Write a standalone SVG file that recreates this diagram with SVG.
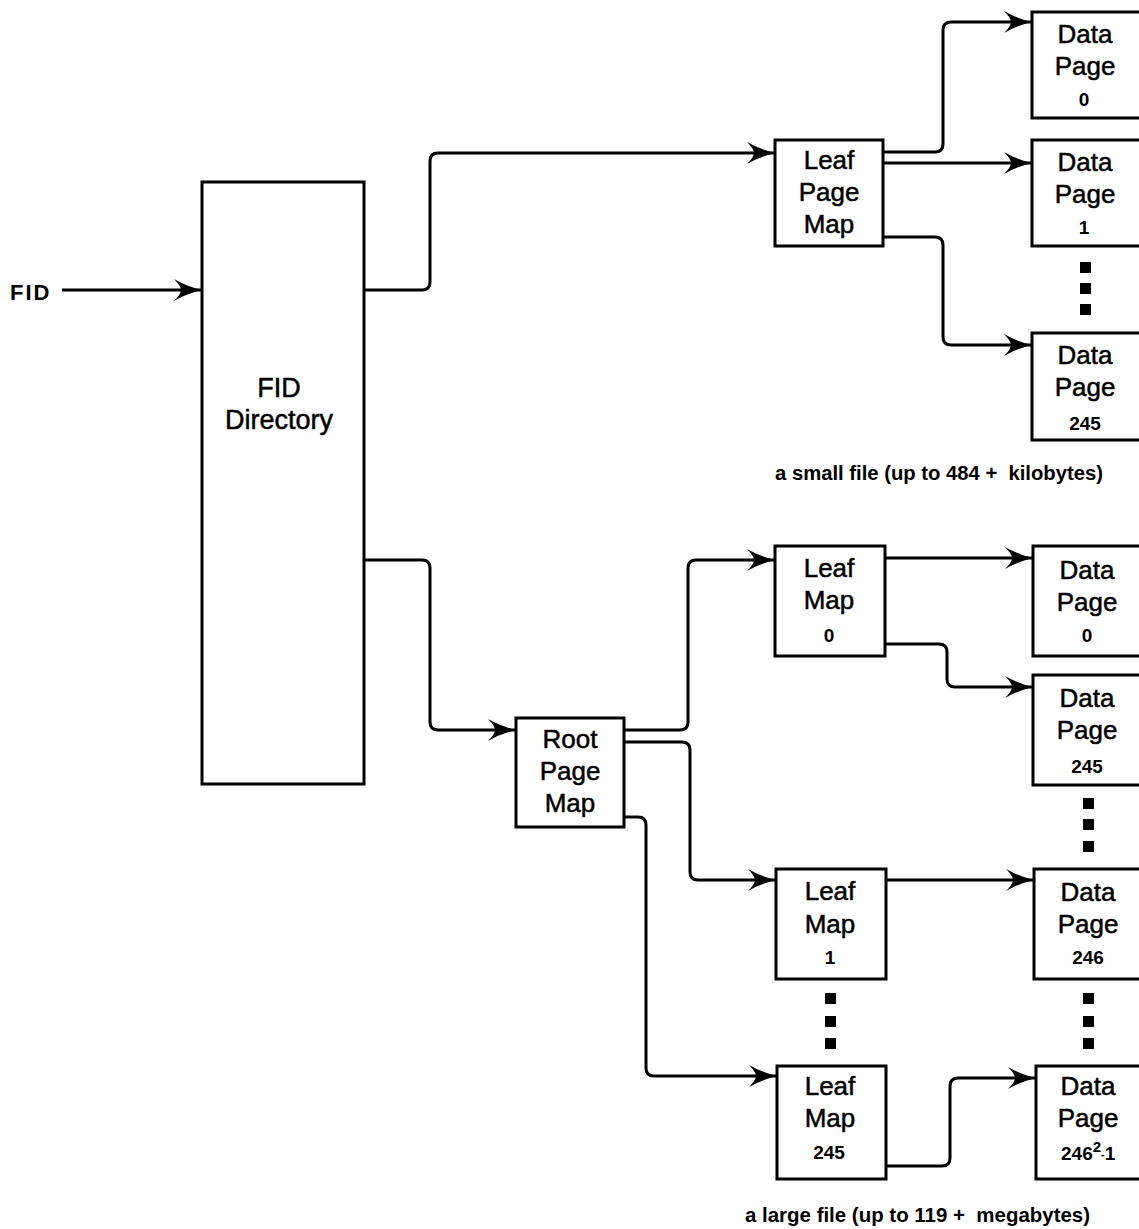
<svg xmlns="http://www.w3.org/2000/svg" width="1139" height="1229" viewBox="0 0 1139 1229">
<style>
.box{fill:#fff;stroke:#000;stroke-width:3}
.t{font-family:"Liberation Sans",Arial,sans-serif;font-size:26px;fill:#000;stroke:#000;stroke-width:0.5;text-anchor:middle}
.n{font-family:"Liberation Sans",Arial,sans-serif;font-size:19px;font-weight:bold;fill:#000;text-anchor:middle}
.cap{font-family:"Liberation Sans",Arial,sans-serif;font-size:20px;font-weight:bold;fill:#000;white-space:pre}
.c{fill:none;stroke:#000;stroke-width:3;marker-end:url(#ah)}
.dot{fill:#000}
</style>
<defs>
<marker id="ah" markerUnits="userSpaceOnUse" markerWidth="30" markerHeight="24" viewBox="0 0 30 24" refX="29" refY="12" orient="auto">
<path d="M29,12 Q14,8.5 1,1 Q8,8 8,12 Q8,16 1,23 Q14,15.5 29,12 Z" fill="#000"/>
</marker>
</defs>
<rect width="1139" height="1229" fill="#fff"/>

<text class="cap" x="10" y="300" style="font-size:22px;letter-spacing:2px">FID</text>

<g id="fid-directory">
<rect class="box" x="202" y="182" width="162" height="602"/>
<text class="t" x="279" y="397" style="font-size:27px">FID</text>
<text class="t" x="279" y="429" style="font-size:27px">Directory</text>
</g>

<g id="leaf-page-map">
<rect class="box" x="775" y="140" width="108" height="106"/>
<text class="t" x="829" y="169">Leaf</text>
<text class="t" x="829" y="201">Page</text>
<text class="t" x="829" y="233">Map</text>
</g>

<g id="small-data-0">
<rect class="box" x="1032" y="12" width="110" height="106"/>
<text class="t" x="1085" y="43">Data</text>
<text class="t" x="1085" y="75">Page</text>
<text class="n" x="1084" y="106">0</text>
</g>
<g id="small-data-1">
<rect class="box" x="1032" y="140" width="110" height="106"/>
<text class="t" x="1085" y="171">Data</text>
<text class="t" x="1085" y="203">Page</text>
<text class="n" x="1084" y="234">1</text>
</g>
<g id="small-dots">
<rect class="dot" x="1080" y="262" width="11" height="11"/>
<rect class="dot" x="1080" y="283" width="11" height="11"/>
<rect class="dot" x="1080" y="304" width="11" height="11"/>
</g>
<g id="small-data-245">
<rect class="box" x="1032" y="333" width="110" height="107"/>
<text class="t" x="1085" y="364">Data</text>
<text class="t" x="1085" y="396">Page</text>
<text class="n" x="1085" y="430">245</text>
</g>

<text id="caption-small" class="cap" x="775" y="480" textLength="328" lengthAdjust="spacingAndGlyphs">a small file (up to 484 +  kilobytes)</text>

<g id="root-page-map">
<rect class="box" x="516" y="718" width="108" height="109"/>
<text class="t" x="570" y="748">Root</text>
<text class="t" x="570" y="780">Page</text>
<text class="t" x="570" y="812">Map</text>
</g>

<g id="leaf-map-0">
<rect class="box" x="775" y="546" width="110" height="110"/>
<text class="t" x="829" y="577">Leaf</text>
<text class="t" x="829" y="609">Map</text>
<text class="n" x="829" y="642">0</text>
</g>
<g id="leaf-map-1">
<rect class="box" x="776" y="869" width="110" height="110"/>
<text class="t" x="830" y="900">Leaf</text>
<text class="t" x="830" y="933">Map</text>
<text class="n" x="830" y="964">1</text>
</g>
<g id="leaf-dots">
<rect class="dot" x="825" y="993" width="11" height="11"/>
<rect class="dot" x="825" y="1016" width="11" height="11"/>
<rect class="dot" x="825" y="1038" width="11" height="11"/>
</g>
<g id="leaf-map-245">
<rect class="box" x="777" y="1066" width="109" height="113"/>
<text class="t" x="830" y="1095">Leaf</text>
<text class="t" x="830" y="1127">Map</text>
<text class="n" x="829" y="1159">245</text>
</g>

<g id="large-data-0">
<rect class="box" x="1033" y="546" width="110" height="110"/>
<text class="t" x="1087" y="579">Data</text>
<text class="t" x="1087" y="611">Page</text>
<text class="n" x="1087" y="642">0</text>
</g>
<g id="large-data-245">
<rect class="box" x="1033" y="675" width="110" height="110"/>
<text class="t" x="1087" y="707">Data</text>
<text class="t" x="1087" y="739">Page</text>
<text class="n" x="1087" y="773">245</text>
</g>
<g id="large-dots-1">
<rect class="dot" x="1083" y="798" width="11" height="11"/>
<rect class="dot" x="1083" y="819" width="11" height="11"/>
<rect class="dot" x="1083" y="841" width="11" height="11"/>
</g>
<g id="large-data-246">
<rect class="box" x="1034" y="869" width="110" height="110"/>
<text class="t" x="1088" y="901">Data</text>
<text class="t" x="1088" y="933">Page</text>
<text class="n" x="1088" y="964">246</text>
</g>
<g id="large-dots-2">
<rect class="dot" x="1083" y="993" width="11" height="11"/>
<rect class="dot" x="1083" y="1016" width="11" height="11"/>
<rect class="dot" x="1083" y="1038" width="11" height="11"/>
</g>
<g id="large-data-last">
<rect class="box" x="1036" y="1066" width="110" height="113"/>
<text class="t" x="1088" y="1095">Data</text>
<text class="t" x="1088" y="1127">Page</text>
<text class="n" x="1061" y="1160" style="text-anchor:start">246<tspan font-size="15" dy="-8">2</tspan><tspan font-size="11" dy="6">-</tspan><tspan dy="2">1</tspan></text>
</g>

<text id="caption-large" class="cap" x="745" y="1222" textLength="345" lengthAdjust="spacingAndGlyphs">a large file (up to 119 +  megabytes)</text>

<g id="connectors">
<path class="c" d="M62,290 H202"/>
<path class="c" d="M364,290 H422 Q430,290 430,282 V161 Q430,153 438,153 H775"/>
<path class="c" d="M364,560 H422 Q430,560 430,568 V722 Q430,730 438,730 H516"/>
<path class="c" d="M883,152 H935 Q943,152 943,144 V30 Q943,22 951,22 H1032"/>
<path class="c" d="M883,163 H1032"/>
<path class="c" d="M883,237 H935 Q943,237 943,245 V337 Q943,345 951,345 H1032"/>
<path class="c" d="M624,730 H680 Q688,730 688,722 V568 Q688,560 696,560 H775"/>
<path class="c" d="M624,742 H682 Q690,742 690,750 V872 Q690,880 698,880 H776"/>
<path class="c" d="M624,817 H638 Q646,817 646,825 V1068 Q646,1076 654,1076 H777"/>
<path class="c" d="M885,558 H1033"/>
<path class="c" d="M885,644 H939 Q947,644 947,652 V679 Q947,687 955,687 H1033"/>
<path class="c" d="M886,880 H1034"/>
<path class="c" d="M886,1166 H942 Q950,1166 950,1158 V1086 Q950,1078 958,1078 H1036"/>
</g>
</svg>
